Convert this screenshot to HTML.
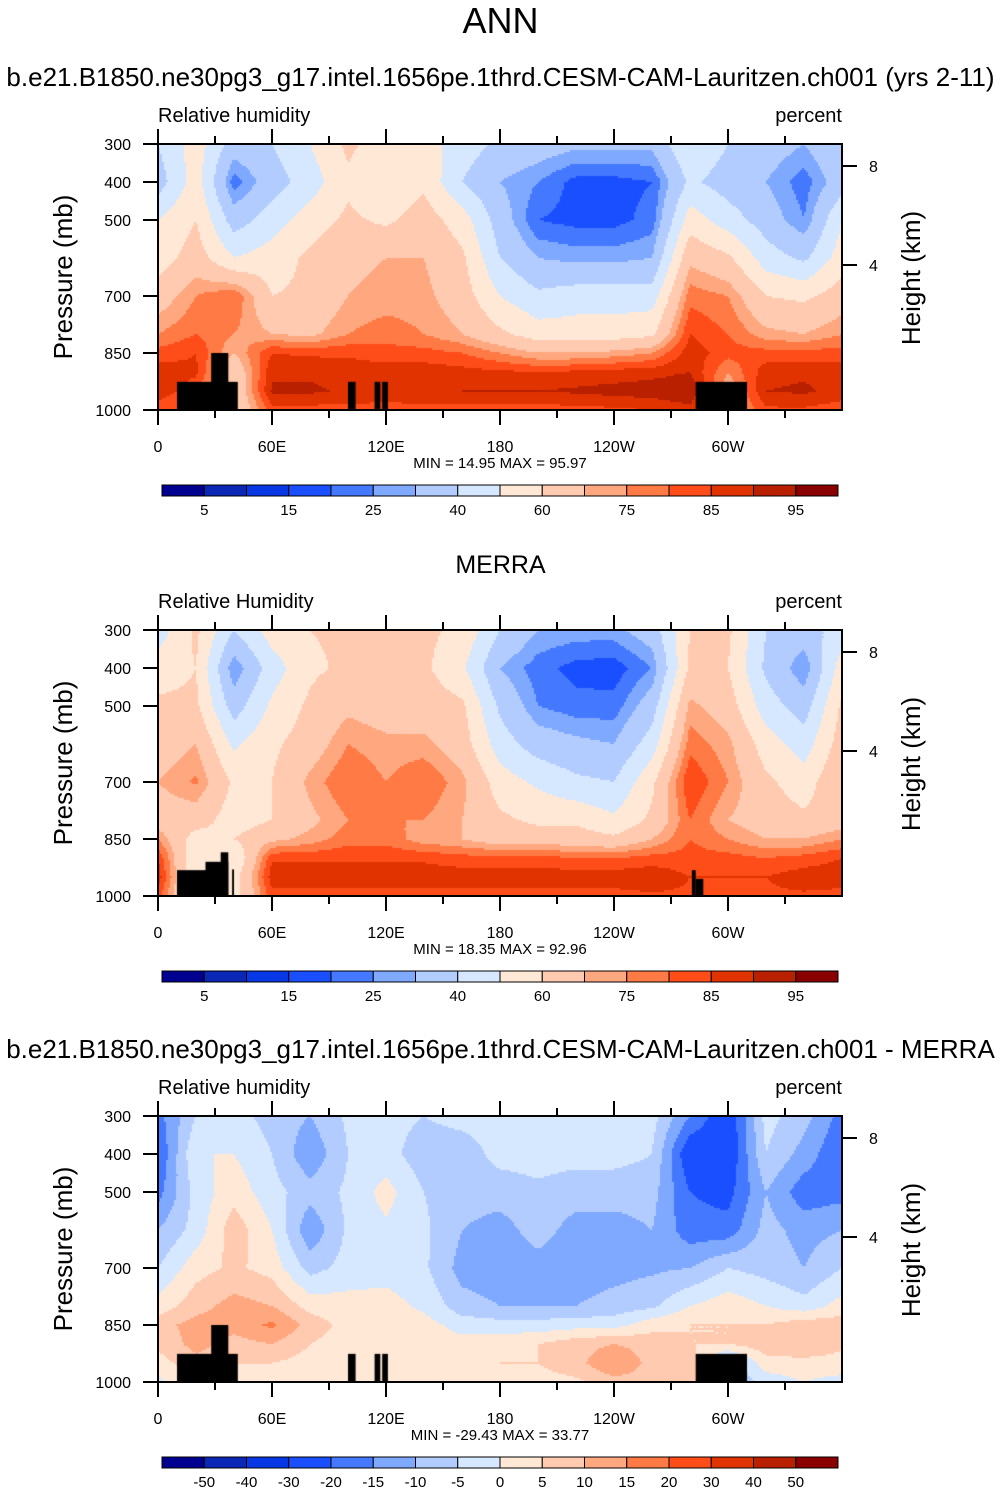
<!DOCTYPE html>
<html><head><meta charset="utf-8">
<style>
body{margin:0;background:#fff;}
#root{position:relative;width:1001px;height:1492px;font-family:"Liberation Sans",sans-serif;color:#000;}
.t{position:absolute;white-space:nowrap;}
canvas{position:absolute;}
svg{position:absolute;left:0;top:0;}
</style></head><body>
<div id="root">
<div class="t" style="left:0;width:1001px;text-align:center;top:0;font-size:36px;">ANN</div>
<div class="t" style="left:0;width:1001px;text-align:center;top:62px;font-size:26px;">b.e21.B1850.ne30pg3_g17.intel.1656pe.1thrd.CESM-CAM-Lauritzen.ch001 (yrs 2-11)</div>
<div class="t" style="left:0;width:1001px;text-align:center;top:551px;font-size:25px;">MERRA</div>
<div class="t" style="left:0;width:1001px;text-align:center;top:1034px;font-size:26px;">b.e21.B1850.ne30pg3_g17.intel.1656pe.1thrd.CESM-CAM-Lauritzen.ch001 - MERRA</div>
<canvas id="c0" width="684" height="266" style="left:158px;top:144px"></canvas>
<canvas id="c1" width="684" height="266" style="left:158px;top:630px"></canvas>
<canvas id="c2" width="684" height="266" style="left:158px;top:1116px"></canvas>
<svg id="ov" width="1001" height="1492"></svg>
</div>
<script>
const lons=[0,20,40,60,80,100,120,140,160,180,200,220,240,260,280,300,320,340,360];
const pres=[300,400,500,600,700,800,850,900,950,1000];
const colors=["#000090","#0A28B5","#0838E5","#1A4FFF","#4478FF","#7FA8FF","#B3CCFF","#D6E8FF","#FFE8D6","#FFCAB0","#FFA880","#FF7A45","#FF4D1A","#E03300","#B82000","#8A0000"];
const levelsRH=[5,10,15,20,25,30,40,50,60,70,75,80,85,90,95];
const levelsDiff=[-50,-40,-30,-20,-15,-10,-5,0,5,10,15,20,30,40,50];
const labelsRH=["5","15","25","40","60","75","85","95"];
const labelsDiff=["-50","-40","-30","-20","-15","-10","-5","0","5","10","15","20","30","40","50"];
const xTickLabels=["0","60E","120E","180","120W","60W"];
const minmax=["MIN =  14.95   MAX =  95.97","MIN =  18.35   MAX =  92.96","MIN = -29.43   MAX =  33.77"];
const rhModel=[
[40,35,50,55,65,75,82,88,88,82],[55,55,60,65,75,80,85,86,82,80],[35,22,35,50,80,75,70,62,60,60],
[40,35,45,55,60,70,85,89,91,83],[50,45,55,62,62,68,84,89,91,83],[62,58,62,68,70,75,84,88,89,83],
[55,50,58,70,72,78,82,88,88,83],[55,58,65,70,72,75,82,88,89,83],[45,40,55,62,65,70,80,87,90,83],
[38,30,35,40,50,62,75,86,90,83],[35,25,20,30,42,55,70,85,90,83],[32,18,18,28,45,55,70,86,91,83],
[32,18,18,28,45,55,72,87,92,84],[32,20,22,30,45,58,75,88,93,85],[50,42,55,68,78,85,88,90,95,88],
[40,35,45,62,75,80,82,75,70,70],[35,30,35,45,60,72,82,88,90,84],[30,22,25,38,58,70,82,89,91,84],
[40,35,50,55,65,75,82,88,88,82]];
const rhMerra=[
[45,55,62,65,70,65,75,85,88,83],[62,60,62,70,76,65,55,50,50,50],[40,25,35,48,58,55,60,50,55,55],
[55,45,52,58,60,60,68,84,88,83],[60,58,62,65,72,68,72,84,88,83],[62,62,68,75,80,75,78,84,88,83],
[62,60,65,72,75,75,78,84,88,83],[62,62,65,72,80,75,72,84,88,83],[58,52,62,65,72,70,70,82,88,83],
[40,30,38,45,55,62,65,82,88,83],[30,22,25,35,48,58,65,82,88,83],[28,18,22,32,42,58,65,80,88,83],
[28,17,22,30,40,52,62,80,88,83],[35,25,35,45,58,62,70,82,89,84],[60,62,72,78,85,80,80,82,85,84],
[62,60,65,72,75,70,75,82,85,84],[40,38,45,55,62,65,70,80,85,84],[35,25,35,45,55,62,70,82,88,84],
[45,55,62,65,70,65,75,85,88,83]];
const rhDiff=[
[-17,-20,-17,-10,-5,2,8,6,3,-2],[-5,0,-3,-3,3,8,12,12,8,8],[-3,0,3,8,6,12,12,8,5,5],
[-7,-5,-3,0,3,10,16,10,5,3],[-10,-14,-8,-14,-7,3,8,5,3,2],[-4,-5,-4,-4,-3,2,3,2,2,2],
[-3,-3,2,-1,-2,2,3,2,2,2],[-5,-8,-5,-4,-4,-1,2,2,2,2],[-3,-8,-8,-10,-12,-8,-2,2,2,2],
[-3,-3,-8,-12,-13,-10,-3,3,5,3],[-3,-3,-6,-8,-12,-10,-3,5,5,3],[-3,-3,-8,-12,-13,-10,-2,8,8,4],
[-3,-3,-8,-12,-12,-8,-2,10,15,8],[-3,-5,-8,-10,-11,-6,3,8,8,8],[-15,-25,-20,-18,-10,0,5,5,8,8],
[-25,-25,-22,-18,-5,3,5,5,-10,-10],[-3,-5,-10,-8,-7,0,5,8,3,-3],[-8,-12,-18,-12,-10,-3,8,10,3,0],
[-17,-20,-17,-10,-5,2,8,6,3,-2]];
const terrainModel=[[10,42,926],[28,37,850],[100,104,926],[114,117,926],[118,121,926],[283,310,926]];
const terrainMerra=[[10,33,932],[25,37,910],[33,37,885],[39,40,930],[281,283,932],[283,287,955]];

const PX=158,PW=684,PH=266;
const xs=lon=>PX+lon/360*PW;
const yOff=p=>(p-300)/700*PH;

function interp(arr,lon,p){
  let i=0;while(i<lons.length-2&&lon>lons[i+1])i++;
  let j=0;while(j<pres.length-2&&p>pres[j+1])j++;
  const fx=(lon-lons[i])/(lons[i+1]-lons[i]);
  const fy=(p-pres[j])/(pres[j+1]-pres[j]);
  const a=arr[i][j],b=arr[i+1][j],c=arr[i][j+1],d=arr[i+1][j+1];
  return a*(1-fx)*(1-fy)+b*fx*(1-fy)+c*(1-fx)*fy+d*fx*fy;
}
function bin(v,lv){let k=0;while(k<lv.length&&v>=lv[k])k++;return k;}
function drawField(id,arr,lv,terr){
  const ctx=document.getElementById(id).getContext('2d');
  const s=2;
  for(let x=0;x<PW;x+=s)for(let y=0;y<PH;y+=s){
    const lon=(x+s/2)/PW*360,p=300+(y+s/2)/PH*700;
    ctx.fillStyle=colors[bin(interp(arr,lon,p),lv)];
    ctx.fillRect(x,y,s,s);
  }
  ctx.fillStyle="#000";
  terr.forEach(t=>{const x0=t[0]/360*PW,x1=t[1]/360*PW,y0=yOff(t[2]);ctx.fillRect(x0,y0,x1-x0,PH-y0);});
}
drawField('c0',rhModel,levelsRH,terrainModel);
drawField('c1',rhMerra,levelsRH,terrainMerra);
drawField('c2',rhDiff,levelsDiff,terrainModel);

const NS="http://www.w3.org/2000/svg";
const ov=document.getElementById('ov');
function el(tag,attrs,txt){const e=document.createElementNS(NS,tag);for(const k in attrs)e.setAttribute(k,attrs[k]);if(txt!==undefined)e.textContent=txt;ov.appendChild(e);return e;}
const panelTops=[144,630,1116];
const panelLabel=["Relative humidity","Relative Humidity","Relative humidity"];
const pTicks=[300,400,500,700,850,1000];
const hTicks=[[8,166],[4,265]];
panelTops.forEach((T,pi)=>{
  const b=el('rect',{x:PX,y:T,width:PW,height:PH,fill:'none',stroke:'#000','stroke-width':2});
  
  
  const lt=el('text',{x:158,y:T-22,'font-size':20},panelLabel[pi]);
  
  
  const ut=el('text',{x:842,y:T-22,'font-size':20,'text-anchor':'end'},'percent');
  
  
  pTicks.forEach(p=>{
    const y=T+yOff(p);
    el('line',{x1:143,x2:158,y1:y,y2:y,stroke:'#000','stroke-width':2});
    const t=el('text',{x:131,y:y+6,'font-size':16,'text-anchor':'end'},String(p));
    
    
  });
  hTicks.forEach(h=>{
    const y=h[1]-144+T;
    el('line',{x1:842,x2:857,y1:y,y2:y,stroke:'#000','stroke-width':2});
    const t=el('text',{x:869,y:y+6,'font-size':16},String(h[0]));
    
    
  });
  for(let lon=0;lon<=330;lon+=30){
    const x=xs(lon),major=lon%60===0,L=major?15:8;
    el('line',{x1:x,x2:x,y1:T+PH,y2:T+PH+L,stroke:'#000','stroke-width':2});
    el('line',{x1:x,x2:x,y1:T,y2:T-L,stroke:'#000','stroke-width':2});
    if(major){
      const t=el('text',{x:x,y:T+PH+42,'font-size':16,'text-anchor':'middle'},xTickLabels[lon/60]);
      
      
    }
  }
  const mm=el('text',{x:500,y:T+PH+58,'font-size':15,'text-anchor':'middle','xml:space':'preserve'},minmax[pi]);
  
  
  const ya=el('text',{x:0,y:0,'font-size':26,'text-anchor':'middle',transform:`translate(72,${T+133}) rotate(-90)`},'Pressure (mb)');
  
  
  const ha=el('text',{x:0,y:0,'font-size':26,'text-anchor':'middle',transform:`translate(920,${T+134}) rotate(-90)`},'Height (km)');
  
  
  const cy=T+341,cx=162,cw=676/16;
  colors.forEach((c,k)=>{
    const r=el('rect',{x:cx+k*cw,y:cy,width:cw,height:11,fill:c,stroke:'#000','stroke-width':1});
    
    
  });
  const labs=pi===2?labelsDiff:labelsRH;
  labs.forEach((s,k)=>{
    const idx=pi===2?k+1:2*k+1;
    const t=el('text',{x:cx+idx*cw,y:cy+30,'font-size':15,'text-anchor':'middle'},s);
    
    
  });
});
</script>
</body></html>
